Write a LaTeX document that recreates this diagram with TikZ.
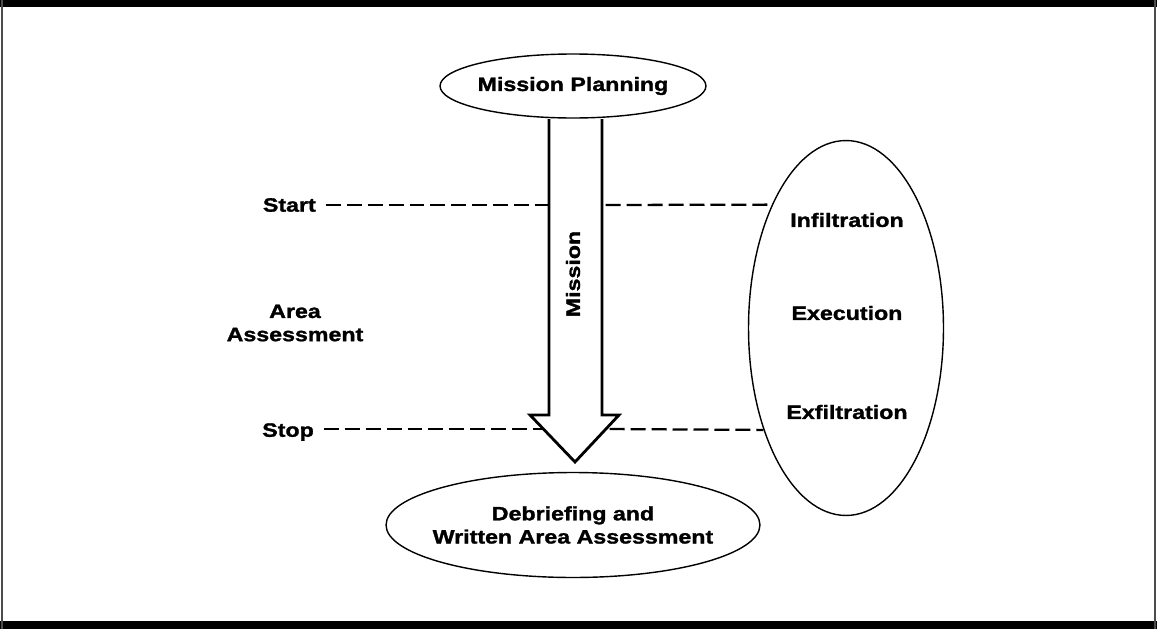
\documentclass[tikz,border=0pt]{standalone}
\usepackage{fontspec}
\setmainfont[FakeStretch=1.2, BoldFeatures={FakeBold=1.5}]{Liberation Sans}
\usetikzlibrary{shapes.geometric}

\begin{document}
\begin{tikzpicture}[x=0.02cm, y=-0.02cm,
    phase/.style={ellipse, draw, line width=0.8pt, inner sep=-0.6cm, font=\fontsize{11}{13.2}\selectfont\bfseries, align=center},
    tag/.style={font=\fontsize{11}{13.2}\selectfont\bfseries, align=center},
    timeline/.style={line width=1.3pt, dash pattern=on 0.3cm off 0.12cm, shorten <=2pt}]
    \useasboundingbox (0,0) rectangle (1157,629);

    % frame
    \fill (0,0) rectangle (1157,7);
    \fill (0,621) rectangle (1157,629);
    \draw[line width=0.6pt, gray!60!black] (2,0) -- (2,629);
    \draw[line width=0.6pt, gray!60!black] (1155,0) -- (1155,629);

    % phases
    \node[phase, minimum width=5.32cm, minimum height=1.28cm] (plan) at (573,86) {Mission Planning};
    \node[phase, minimum width=7.48cm, minimum height=2.1cm] (debrief) at (573,525) {Debriefing and\\Written Area Assessment};
    \node[phase, minimum width=3.9cm, minimum height=7.5cm] (ops) at (846,328) {};
    \node[tag] (infil) at (847,220) {Infiltration};
    \node[tag] (exec) at (847,313) {Execution};
    \node[tag] (exfil) at (847,412) {Exfiltration};

    % mission arrow
    \draw[line width=1.6pt, fill=white, line join=miter]
        (549,119) -- (549,415) -- (530,415) -- (575,462) -- (619,415) -- (602,415) -- (602,119);
    \node[tag, rotate=90] (mission) at (573,274) {Mission};

    % start / stop
    \node[tag, anchor=east] (start) at (322,205) {Start};
    \node[tag, anchor=east] (stop) at (320,432) {Stop};
    \node[tag] (area) at (295,323) {Area\\Assessment};
    \coordinate (sl) at (549,205);
    \coordinate (sr) at (602,205);
    \coordinate (tl) at (543,429);
    \coordinate (tr) at (606,429);
    \draw[timeline] (start.east |- sl) -- (sl);
    \draw[timeline] (sr) -- (ops.121);
    \draw[timeline] (stop.east |- tl) -- (tl);
    \draw[timeline] (tr) -- (ops.231);
\end{tikzpicture}
\end{document}
